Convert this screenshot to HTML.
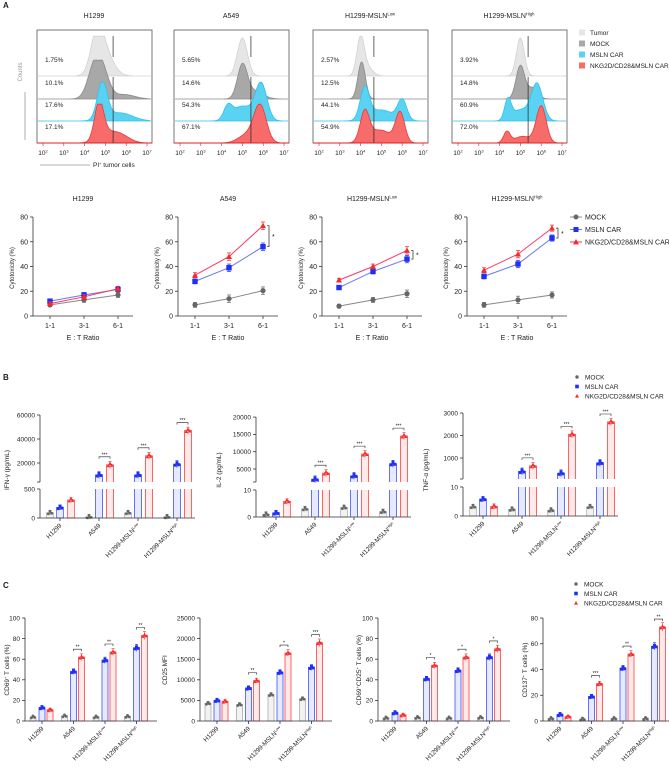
<!DOCTYPE html>
<html><head><meta charset="utf-8"><style>
html,body{margin:0;padding:0;background:#fff}
svg{display:block;font-family:"Liberation Sans",sans-serif}
</style></head><body>
<svg id="fig" width="669" height="768" viewBox="0 0 669 768" xmlns="http://www.w3.org/2000/svg"></svg>
<script>
// ---------- DATA ----------
const histTitles = ["H1299","A549","H1299-MSLN","H1299-MSLN"];
const histSups = ["","","Low","High"];
const histPercents = [["1.75%","10.1%","17.6%","17.1%"],["5.65%","14.6%","54.3%","67.1%"],["2.57%","12.5%","44.1%","54.9%"],["3.92%","14.8%","60.9%","72.0%"]];
const histGates = [5.37, 5.41, 4.64, 5.37];
const histPeaksH1299 = [[[4.6,0.3,1],[5.0,0.4,0.55]],[[4.45,0.32,0.75],[4.85,0.32,0.7],[5.9,0.5,0.12]],[[4.85,0.24,1],[5.7,0.6,0.22]],[[4.7,0.22,1],[5.25,0.5,0.28],[5.9,0.4,0.1]]];
const histPeaksA549 = [[[5.0,0.24,1]],[[5.0,0.24,0.9],[5.6,0.4,0.2]],[[4.3,0.2,0.35],[5.0,0.45,0.4],[5.9,0.28,1]],[[5.2,0.4,0.22],[5.85,0.3,1]]];
const histPeaksLow = [[[4.0,0.18,1],[4.35,0.25,0.2]],[[4.05,0.18,1]],[[4.2,0.22,0.85],[5.0,0.55,0.3],[6.0,0.22,0.55]],[[4.2,0.22,0.8],[4.95,0.5,0.35],[5.9,0.22,0.8]]];
const histPeaksHigh = [[[5.0,0.19,1]],[[5.0,0.21,0.9],[5.6,0.24,0.3]],[[4.4,0.16,0.55],[5.0,0.38,0.3],[5.8,0.28,1]],[[4.35,0.16,0.3],[5.1,0.38,0.18],[6.0,0.24,1]]];
const histPeaks = [histPeaksH1299, histPeaksA549, histPeaksLow, histPeaksHigh];

const lineCats = ["1-1","3-1","6-1"];
const lineTitles = ["H1299","A549","H1299-MSLN","H1299-MSLN"];
const lineMock = [[9,13,17],[9,14,20.5],[8,13,18],[9,13,17]];
const lineMsln = [[12,17,21.5],[28,39,56],[23,36,46],[32,42,63]];
const lineNkg = [[10,15.5,22],[33,48,73],[29,40,53],[37,50,71]];
const lineErr = [[1.5,2,2],[2,3,3],[1.5,2,3],[2,3,2.5]];
const lineSig = [false,true,true,true];
const lineTicks = [0,20,40,60,80];

const groups = ["H1299","A549","H1299-MSLN","H1299-MSLN"];
const groupSups = ["","","Low","High"];
const ifnMock = [90,20,90,20], ifnMsln = [180,10000,10000,19000], ifnNkg = [310,18500,26000,47000];
const il2Mock = [1,3,3.5,2], il2Msln = [1.5,2000,3000,6500], il2Nkg = [5.8,3800,9300,14500];
const tnfMock = [3.2,2.3,2,3.2], tnfMsln = [5.8,400,320,780], tnfNkg = [3.3,650,2050,2600];
const ifnSig = ["","***","***","***"], il2Sig = ["","***","***","***"], tnfSig = ["","***","***","***"];

const cd69Mock = [4,5,4,4.5], cd69Msln = [13,48,59,71], cd69Nkg = [11,62,67,83];
const cd25Mock = [4300,4000,6400,5400], cd25Msln = [5000,8000,11800,13000], cd25Nkg = [4800,9800,16500,19000];
const dpMock = [3,3.5,3,3.5], dpMsln = [8,41,49,62], dpNkg = [6,54,62,70];
const cd137Mock = [2,1.5,2,2], cd137Msln = [5,19,41,58], cd137Nkg = [3.5,29,52,73];
const cd69Sig = ["","**","**","**"], cd25Sig = ["","**","*","***"], dpSig = ["","*","*","*"], cd137Sig = ["","***","**","**"];
const cd69Ticks = [0,20,40,60,80,100], cd25Ticks = [0,5000,10000,15000,20000,25000], dpTicks = [0,20,40,60,80,100], cd137Ticks = [0,20,40,60,80];

// ---------- HELPERS ----------
const svg = document.getElementById('fig');
const NS = "http://www.w3.org/2000/svg";
function mk(tag, attrs, parent){
  const e = document.createElementNS(NS, tag);
  for (const k in attrs) e.setAttribute(k, attrs[k]);
  (parent||svg).appendChild(e);
  return e;
}
function txt(x,y,s,size,anchor,parent,extra){
  const t = mk('text',Object.assign({x:x,y:y,'font-size':size||7,'text-anchor':anchor||'start',fill:'#222'},extra||{}),parent);
  t.textContent = s;
  return t;
}
function supText(x,y,base,sup,size,anchor,parent,extra){
  const t = mk('text',Object.assign({x:x,y:y,'font-size':size,'text-anchor':anchor,fill:'#222'},extra||{}),parent);
  const a = document.createElementNS(NS,'tspan'); a.textContent = base; t.appendChild(a);
  if (sup){ const b = document.createElementNS(NS,'tspan'); b.setAttribute('font-size',size*0.6); b.setAttribute('dy',-size*0.35); b.textContent = sup; t.appendChild(b); }
  return t;
}
const C = {gray:'#666', grayL:'#aaa', blue:'#1f2ff5', blueL:'#7f8cf7', red:'#f52a2a', redL:'#f77'};

[['A',3,8],['B',3,380],['C',3,588]].forEach(p=>{
  const t = txt(p[1],p[2],p[0],8,'start',svg,{'font-weight':'bold'});
  
  
});

// ---------- HISTOGRAMS ----------
const boxX = [37,174,313,452];
const rowBase = [76,99,121,143];
const rowH = [38,37,37,37];
const histFill = ['#e6e6e6','#a8a8a8','#5ad3f3','#f76b6b'];
const histStroke = ['#d2d2d2','#8a8a8a','#2cc3ee','#e83a3a'];
boxX.forEach((bx,pi)=>{
  const g = mk('g',{});
  
  
  const lx = v => bx+6+(v-2)/5*104;
  const tt = supText(bx+57,18,histTitles[pi],histSups[pi],7,'middle',g);
  
  
  for (let r=0;r<4;r++){
    let d = 'M'+(bx+1)+','+rowBase[r];
    for (let v=2; v<=7.001; v+=0.025){
      let y = 0;
      histPeaks[pi][r].forEach(p=>{ y += p[2]*Math.exp(-0.5*Math.pow((v-p[0])/p[1],2)); });
      y = Math.min(y,1.05);
      d += ' L'+lx(v).toFixed(1)+','+(rowBase[r]-y*rowH[r]).toFixed(1);
    }
    d += ' L'+(bx+114)+','+rowBase[r]+' Z';
    const p = mk('path',{d:d,fill:histFill[r],stroke:histStroke[r],'stroke-width':0.8},g);
    
    
  }
  for (let r=0;r<4;r++){
    const gl = mk('line',{x1:lx(histGates[pi]),x2:lx(histGates[pi]),y1:rowBase[r]-(r==0?40:22),y2:r==0?rowBase[r]-19:rowBase[r],stroke:'#222','stroke-width':0.7},g);
    
    
    const pt = txt(bx+8,rowBase[r]-14,histPercents[pi][r],6.5,'start',g);
    
    
  }
  const box = mk('rect',{x:bx,y:30,width:115,height:113,fill:'none',stroke:'#555','stroke-width':0.8},g);
  
  
  const ax = mk('line',{x1:bx,x2:bx+115,y1:143,y2:143,stroke:'#d22','stroke-width':1},g);
  
  
  for (let e=2;e<=7;e++){
    mk('line',{x1:lx(e),x2:lx(e),y1:143,y2:146,stroke:'#d22','stroke-width':0.6},g);
    const tl = supText(lx(e),155,'10',String(e),6.5,'middle',g);
    
    
  }
});
const cl = txt(22,72,'Counts',6,'middle',svg,{transform:'rotate(-90 22 72)',fill:'#999'});


mk('line',{x1:25,x2:25,y1:92,y2:140,stroke:'#999','stroke-width':0.8});
mk('line',{x1:40,x2:90,y1:165,y2:165,stroke:'#999','stroke-width':0.8});
const pil = mk('text',{x:93,y:167,'font-size':6.5,fill:'#222'});
pil.innerHTML='PI<tspan font-size="4" dy="-2">+</tspan><tspan dy="2"> tumor cells</tspan>';


const histLeg = ['Tumor','MOCK','MSLN CAR','NKG2D/CD28&MSLN CAR'];
histLeg.forEach((s,i)=>{
  const y = 33+i*11;
  const g = mk('g',{});
  
  
  mk('rect',{x:579,y:y-3.5,width:6,height:6,fill:histFill[i]},g);
  txt(590,y+2,s,6.5,'start',g);
});

// ---------- LINE CHARTS ----------
const lineAx = [33,178,322,467];
const ly = v => 316 - v/80*99;
lineAx.forEach((ax,pi)=>{
  const g = mk('g',{});
  
  
  const lx = i => ax+17+i*34;
  const t = supText(ax+50,201,lineTitles[pi],groupSups[pi],7,'middle',g);
  
  
  mk('line',{x1:ax,x2:ax,y1:ly(80),y2:316,stroke:'#333','stroke-width':0.8},g);
  mk('line',{x1:ax,x2:ax+100,y1:316,y2:316,stroke:'#333','stroke-width':0.8},g);
  lineTicks.forEach(v=>{
    mk('line',{x1:ax-3,x2:ax,y1:ly(v),y2:ly(v),stroke:'#333','stroke-width':0.8},g);
    const tl = txt(ax-5,ly(v)+2.5,String(v),7,'end',g);
    
    
  });
  lineCats.forEach((c,i)=>{
    mk('line',{x1:lx(i),x2:lx(i),y1:316,y2:319,stroke:'#333','stroke-width':0.8},g);
    const tl = txt(lx(i),328,c,7,'middle',g);
    
    
  });
  const xt = txt(ax+50,340,'E : T Ratio',7,'middle',g);
  
  
  const yt = txt(ax-19,268,'Cytotoxicity (%)',6,'middle',g,{transform:'rotate(-90 '+(ax-19)+' 268)'});
  
  
  [[lineMock,C.gray,'#888','circle'],[lineMsln,C.blue,'#6a78f5','square'],[lineNkg,C.red,'#f36','tri']].forEach(s=>{
    const vals = s[0][pi];
    const pts = vals.map((v,i)=>lx(i)+','+ly(v)).join(' ');
    const pl = mk('polyline',{points:pts,fill:'none',stroke:s[2],'stroke-width':1},g);
    
    
    vals.forEach((v,i)=>{
      const e = lineErr[pi][i];
      mk('line',{x1:lx(i),x2:lx(i),y1:ly(v+e),y2:ly(v-e),stroke:s[1],'stroke-width':0.7},g);
      mk('line',{x1:lx(i)-2,x2:lx(i)+2,y1:ly(v+e),y2:ly(v+e),stroke:s[1],'stroke-width':0.7},g);
      mk('line',{x1:lx(i)-2,x2:lx(i)+2,y1:ly(v-e),y2:ly(v-e),stroke:s[1],'stroke-width':0.7},g);
      let m;
      if (s[3]=='circle') m = mk('circle',{cx:lx(i),cy:ly(v),r:2.6,fill:s[1]},g);
      else if (s[3]=='square') m = mk('rect',{x:lx(i)-2.7,y:ly(v)-2.7,width:5.4,height:5.4,fill:s[1]},g);
      else m = mk('polygon',{points:(lx(i))+','+(ly(v)-3)+' '+(lx(i)-3)+','+(ly(v)+2.4)+' '+(lx(i)+3)+','+(ly(v)+2.4),fill:s[1]},g);
      
      
    });
  });
  if (lineSig[pi]){
    const x = lx(2)+6, y1 = ly(lineNkg[pi][2]), y2 = ly(lineMsln[pi][2]);
    mk('path',{d:'M'+(x-2)+','+y1+' H'+x+' V'+y2+' H'+(x-2),fill:'none',stroke:'#222','stroke-width':0.7},g);
    txt(x+3,(y1+y2)/2+3,'*',7,'start',g);
  }
});
const lineLeg = ['MOCK','MSLN CAR','NKG2D/CD28&MSLN CAR'];
lineLeg.forEach((s,i)=>{
  const y = 217+i*12.5;
  const g = mk('g',{});
  
  
  const col = [C.gray,C.blue,C.red][i];
  mk('line',{x1:570,x2:582,y1:y,y2:y,stroke:[ '#888','#6a78f5','#f36'][i],'stroke-width':1},g);
  if (i==0) mk('circle',{cx:576,cy:y,r:2.5,fill:col},g);
  else if (i==1) mk('rect',{x:573.5,y:y-2.5,width:5,height:5,fill:col},g);
  else mk('polygon',{points:'576,'+(y-3)+' 573,'+(y+2.4)+' 579,'+(y+2.4),fill:col},g);
  txt(585,y+2.5,s,7,'start',g);
});

function barLegend(x,y0,step){
  lineLeg.forEach((s,i)=>{
    const y = y0+i*step;
    const g = mk('g',{});
    
    
    const col = [C.gray,C.blue,C.red][i];
    if (i==0) mk('circle',{cx:x,cy:y,r:1.7,fill:col},g);
    else if (i==1) mk('rect',{x:x-1.8,y:y-1.8,width:3.6,height:3.6,fill:col},g);
    else mk('polygon',{points:x+','+(y-2)+' '+(x-2)+','+(y+1.6)+' '+(x+2)+','+(y+1.6),fill:col},g);
    txt(x+8,y+2.3,s,6.5,'start',g);
  });
}
barLegend(577,377,9.5);
barLegend(576,584,9.5);

const seriesStyle = [{c:C.gray,l:'#b5b5b5',f:'#f2f2f2',m:'circle'},{c:C.blue,l:'#5266f5',f:'#e6e9ff',m:'square'},{c:C.red,l:'#f55',f:'#ffeaea',m:'tri'}];
function marker(g,x,y,type,col){
  let m;
  if (type=='circle') m = mk('circle',{cx:x,cy:y,r:1.4,fill:col},g);
  else if (type=='square') m = mk('rect',{x:x-1.5,y:y-1.5,width:3,height:3,fill:col},g);
  else m = mk('polygon',{points:x+','+(y-1.8)+' '+(x-1.7)+','+(y+1.4)+' '+(x+1.7)+','+(y+1.4),fill:col},g);
  
  
}
function groupLabels(g,cx,yAx,sizeF){
  groups.forEach((s,i)=>{
    mk('line',{x1:cx(i),x2:cx(i),y1:yAx,y2:yAx+3,stroke:'#333','stroke-width':0.8},g);
    const x = cx(i)+2, y = yAx+8;
    const t = supText(x,y,s,groupSups[i],sizeF,'end',g,{transform:'rotate(-45 '+x+' '+y+')'});
    
    
  });
}
function bracket(g,x1,x2,y,label){
  if (!label) return;
  mk('path',{d:'M'+x1+','+(y+2)+' V'+y+' H'+x2+' V'+(y+2),fill:'none',stroke:'#222','stroke-width':0.6},g);
  txt((x1+x2)/2,y-0.5,label,5,'middle',g);
}

function brokenChart(name,ax,cfg,mock,msln,nkg,sig,title,titleX){
  const g = mk('g',{});
  
  
  const yv = v => v<=cfg.lowMax ? cfg.y0-(v/cfg.lowMax)*(cfg.y0-cfg.lowTop)
                : cfg.upRefY - (v-cfg.upRef)/cfg.upStep*cfg.upPx;
  const cx = i => ax+20+i*39;
  const offs = [-10,0,11], bw = 7;
  [mock,msln,nkg].forEach((arr,si)=>{
    const st = seriesStyle[si];
    arr.forEach((v,i)=>{
      const x = cx(i)+offs[si];
      const b = mk('g',{},g);
      
      
      if (v<=cfg.lowMax){
        mk('rect',{x:x-bw/2,y:yv(v),width:bw,height:cfg.y0-yv(v),fill:st.f,stroke:st.l,'stroke-width':0.8},b);
      } else {
        mk('rect',{x:x-bw/2,y:cfg.lowTop,width:bw,height:cfg.y0-cfg.lowTop,fill:st.f,stroke:'none'},b);
        mk('line',{x1:x-bw/2,x2:x-bw/2,y1:cfg.lowTop,y2:cfg.y0,stroke:st.l,'stroke-width':0.9},b);
        mk('line',{x1:x+bw/2,x2:x+bw/2,y1:cfg.lowTop,y2:cfg.y0,stroke:st.l,'stroke-width':0.9},b);
        mk('path',{d:'M'+(x-bw/2)+','+cfg.brk+' V'+yv(v)+' H'+(x+bw/2)+' V'+cfg.brk,fill:st.f,stroke:st.l,'stroke-width':0.9},b);
      }
      const e = v<=cfg.lowMax ? 2.5 : 3.5;
      mk('line',{x1:x,x2:x,y1:yv(v)-e,y2:yv(v)+e,stroke:st.c,'stroke-width':0.6},b);
      mk('line',{x1:x-1.5,x2:x+1.5,y1:yv(v)-e,y2:yv(v)-e,stroke:st.c,'stroke-width':0.6},b);
      marker(b,x-1.8,yv(v)+1,st.m,st.c);
      marker(b,x+1.8,yv(v)+0.5,st.m,st.c);
      marker(b,x,yv(v)-1.5,st.m,st.c);
    });
  });
  sig.forEach((s,i)=>{
    const top = Math.min(yv(msln[i]),yv(nkg[i]));
    bracket(g,cx(i)+offs[1],cx(i)+offs[2],top-8,s);
  });
  mk('line',{x1:ax,x2:ax,y1:cfg.upTop,y2:cfg.brk,stroke:'#333','stroke-width':0.8},g);
  mk('line',{x1:ax,x2:ax,y1:cfg.lowTop,y2:cfg.y0,stroke:'#333','stroke-width':0.8},g);
  mk('line',{x1:ax-3,x2:ax,y1:cfg.brk,y2:cfg.brk,stroke:'#333','stroke-width':0.8},g);
  mk('line',{x1:ax,x2:ax+155,y1:cfg.y0,y2:cfg.y0,stroke:'#333','stroke-width':0.8},g);
  cfg.upTicks.forEach(v=>{
    mk('line',{x1:ax-3,x2:ax,y1:yv(v),y2:yv(v),stroke:'#333','stroke-width':0.8},g);
    const t = txt(ax-5,yv(v)+2.3,String(v),6.5,'end',g);
    
    
  });
  [0,cfg.lowMax].forEach(v=>{
    mk('line',{x1:ax-3,x2:ax,y1:yv(v),y2:yv(v),stroke:'#333','stroke-width':0.8},g);
    const t = txt(ax-5,yv(v)+2.3,String(v),6.5,'end',g);
    
    
  });
  groupLabels(g,cx,cfg.y0,6.3);
  const yt = txt(titleX,470,title,6.5,'middle',g,{transform:'rotate(-90 '+titleX+' 470)'});
  
  
}
brokenChart('ifn-gamma-chart',40,{lowMax:500,y0:518,lowTop:489,brk:482,upTop:415,upRef:20000,upRefY:463,upStep:20000,upPx:24,upTicks:[20000,40000,60000]},ifnMock,ifnMsln,ifnNkg,ifnSig,'IFN-γ (pg/mL)',9);
brokenChart('il2-chart',256,{lowMax:10,y0:517,lowTop:490,brk:482,upTop:417,upRef:5000,upRefY:469,upStep:5000,upPx:17.3,upTicks:[5000,10000,15000,20000]},il2Mock,il2Msln,il2Nkg,il2Sig,'IL-2 (pg/mL)',221);
brokenChart('tnf-alpha-chart',463,{lowMax:10,y0:516,lowTop:487,brk:479,upTop:413,upRef:1000,upRefY:458,upStep:1000,upPx:22.5,upTicks:[1000,2000,3000]},tnfMock,tnfMsln,tnfNkg,tnfSig,'TNF-α (pg/mL)',428);

function simpleChart(name,ax,ticks,mock,msln,nkg,sig,title,titleX){
  const g = mk('g',{});
  
  
  const max = ticks[ticks.length-1];
  const yv = v => 721 - v/max*103;
  const cx = i => ax+17+i*31.5;
  const offs = [-9,0,8], bw = 6;
  [mock,msln,nkg].forEach((arr,si)=>{
    const st = seriesStyle[si];
    arr.forEach((v,i)=>{
      const x = cx(i)+offs[si];
      const b = mk('g',{},g);
      
      
      mk('rect',{x:x-bw/2,y:yv(v),width:bw,height:721-yv(v),fill:st.f,stroke:st.l,'stroke-width':0.9},b);
      const e = (721-yv(v))*0.035+1;
      mk('line',{x1:x,x2:x,y1:yv(v)-e,y2:yv(v)+e,stroke:st.c,'stroke-width':0.6},b);
      mk('line',{x1:x-1.5,x2:x+1.5,y1:yv(v)-e,y2:yv(v)-e,stroke:st.c,'stroke-width':0.6},b);
      marker(b,x-1.6,yv(v)+1,st.m,st.c);
      marker(b,x+1.6,yv(v)+0.5,st.m,st.c);
      marker(b,x,yv(v)-1,st.m,st.c);
    });
  });
  sig.forEach((s,i)=>{
    const top = Math.min(yv(msln[i]),yv(nkg[i]));
    bracket(g,cx(i)+offs[1],cx(i)+offs[2],top-8,s);
  });
  mk('line',{x1:ax,x2:ax,y1:618,y2:721,stroke:'#333','stroke-width':0.8},g);
  mk('line',{x1:ax,x2:ax+132,y1:721,y2:721,stroke:'#333','stroke-width':0.8},g);
  ticks.forEach(v=>{
    mk('line',{x1:ax-3,x2:ax,y1:yv(v),y2:yv(v),stroke:'#333','stroke-width':0.8},g);
    const t = txt(ax-5,yv(v)+2.3,String(v),6.5,'end',g);
    
    
  });
  groupLabels(g,cx,721,6.3);
  const yt = txt(titleX,670,'',6.5,'middle',g,{transform:'rotate(-90 '+titleX+' 670)'});
  yt.innerHTML = title;
  
  
}
simpleChart('cd69-chart',25,cd69Ticks,cd69Mock,cd69Msln,cd69Nkg,cd69Sig,'CD69<tspan font-size="4" dy="-2">+</tspan><tspan dy="2"> T cells (%)</tspan>',9);
simpleChart('cd25-mfi-chart',200,cd25Ticks,cd25Mock,cd25Msln,cd25Nkg,cd25Sig,'CD25 MFI',167);
simpleChart('cd69-cd25-chart',378,dpTicks,dpMock,dpMsln,dpNkg,dpSig,'CD69<tspan font-size="4" dy="-2">+</tspan><tspan dy="2">CD25</tspan><tspan font-size="4" dy="-2">+</tspan><tspan dy="2"> T cells (%)</tspan>',361);
simpleChart('cd137-chart',543,cd137Ticks,cd137Mock,cd137Msln,cd137Nkg,cd137Sig,'CD137<tspan font-size="4" dy="-2">+</tspan><tspan dy="2"> T cells (%)</tspan>',527);
</script>
</body></html>
